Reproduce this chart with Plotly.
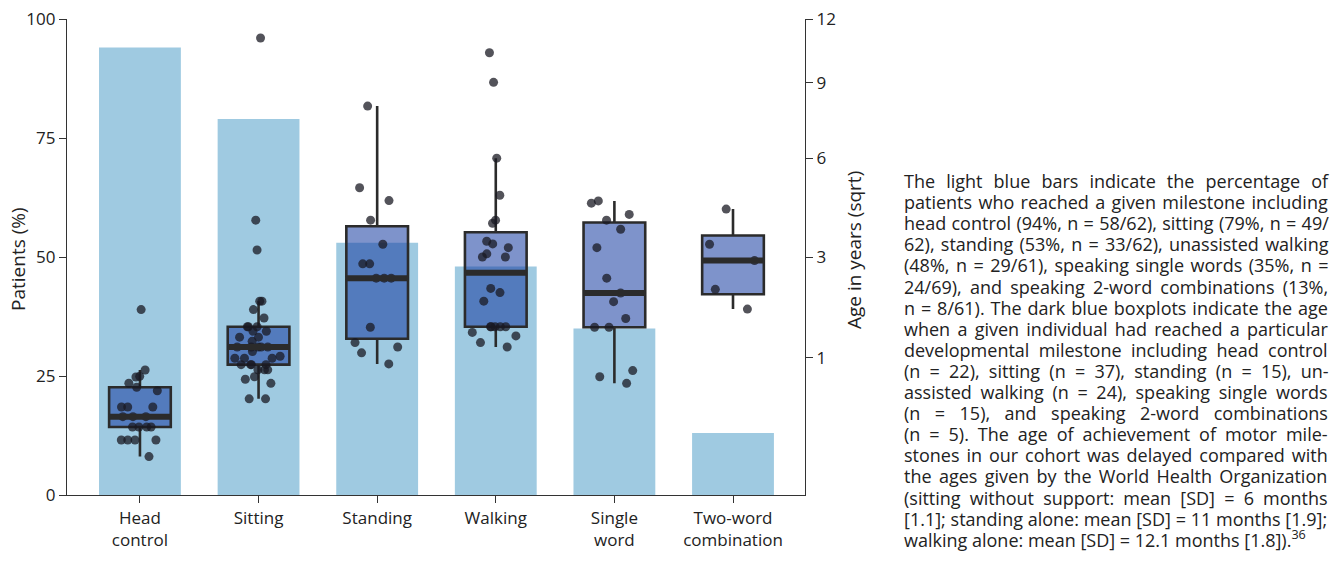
import numpy as np
import plotly.graph_objects as go

# Milestone categories (x positions 0..5)
categories = ["Head<br>control", "Sitting", "Standing", "Walking", "Single<br>word", "Two-word<br>combination"]

# Share of patients reaching each milestone (%)
pct_reached = [94, 79, 53, 48, 35, 13]

# Age (years) at which individual patients reached each milestone
age_head_control = [1.82, 0.828, 0.746, 0.738, 0.661, 0.615, 0.576, 0.41, 0.41, 0.41,
                    0.325, 0.325, 0.325, 0.245, 0.245, 0.245, 0.245,
                    0.16, 0.16, 0.16, 0.16, 0.078]
age_sitting = [11.06, 4.0, 3.18, 1.99, 1.99, 1.82, 1.66, 1.50, 1.50, 1.50, 1.42, 1.42,
               1.32, 1.32, 1.25, 1.16, 1.16, 1.16, 1.16, 1.16, 1.09, 1.02,
               0.99, 0.99, 0.99, 0.90, 0.90, 0.90, 0.90, 0.83, 0.83, 0.83,
               0.74, 0.71, 0.66, 0.49, 0.49]
age_standing = [8.01, 5.00, 4.59, 4.00, 3.33, 2.83, 2.83, 2.49, 2.49, 2.49,
                1.49, 1.23, 1.16, 1.07, 0.91]
age_walking = [10.36, 9.02, 6.01, 4.76, 4.00, 3.91, 3.41, 3.34, 3.24, 3.08, 3.00, 3.00,
               2.26, 2.17, 1.99, 1.50, 1.50, 1.50, 1.50, 1.50, 1.40, 1.34, 1.23, 1.16]
age_single_word = [4.58, 4.51, 4.17, 4.00, 3.74, 3.24, 2.49, 2.16, 1.98, 1.65,
                   1.49, 1.49, 0.82, 0.74, 0.66]
age_two_word = [4.33, 3.33, 2.91, 2.24, 1.83]

ages = [age_head_control, age_sitting, age_standing, age_walking, age_single_word, age_two_word]

# Right axis ticks (years, shown on a square-root scale)
age_ticks = [1, 3, 6, 9, 12]

caption_lines = [
    "The light blue bars indicate the percentage of",
    "patients who reached a given milestone including",
    "head control (94%, n = 58/62), sitting (79%, n = 49/",
    "62), standing (53%, n = 33/62), unassisted walking",
    "(48%, n = 29/61), speaking single words (35%, n =",
    "24/69), and speaking 2-word combinations (13%,",
    "n = 8/61). The dark blue boxplots indicate the age",
    "when a given individual had reached a particular",
    "developmental milestone including head control",
    "(n = 22), sitting (n = 37), standing (n = 15), un-",
    "assisted walking (n = 24), speaking single words",
    "(n = 15), and speaking 2-word combinations",
    "(n = 5). The age of achievement of motor mile-",
    "stones in our cohort was delayed compared with",
    "the ages given by the World Health Organization",
    "(sitting without support: mean [SD] = 6 months",
    "[1.1]; standing alone: mean [SD] = 11 months [1.9];",
    "walking alone: mean [SD] = 12.1 months [1.8]).",
]
caption_ref = "36"

FONT = "Open Sans"
INK = "#222222"
BAR_COLOR = "#9fcae1"
BOX_FILL = "rgba(20,58,160,0.55)"
BOX_LINE = "#2b2b2b"
POINT_COLOR = "rgba(25,25,35,0.75)"
BOX_W = 0.52

# page geometry of the plotting area (px)
W, H = 1336, 576
M_L, M_R, M_T, M_B = 67, 531, 19, 81
PLOT_W = W - M_L - M_R
PLOT_H = H - M_T - M_B


def px_to_paper_x(px):
    return (px - M_L) / PLOT_W


def px_to_paper_y(py):
    return (H - M_B - py) / PLOT_H


# Open Sans advance widths (units per em = 2048) used to justify the caption
ADV = {" ": 532, "!": 547, "(": 606, ")": 606, ",": 502, "-": 659, ".": 545, "/": 752,
       ":": 545, ";": 545, "=": 1171, "%": 1686, "[": 674, "]": 674,
       "A": 1296, "B": 1327, "C": 1292, "D": 1493, "E": 1139, "H": 1511, "O": 1595,
       "S": 1114, "T": 1118, "W": 1921,
       "a": 1139, "b": 1255, "c": 975, "d": 1255, "e": 1149, "f": 694, "g": 1122,
       "h": 1257, "i": 518, "j": 518, "k": 1075, "l": 518, "m": 1905, "n": 1257,
       "o": 1237, "p": 1255, "q": 1255, "r": 836, "s": 977, "t": 723, "u": 1257,
       "v": 1026, "w": 1593, "x": 1073, "y": 1028, "z": 977}
for d in "0123456789":
    ADV[d] = 1171


def text_px(s, size):
    return sum(ADV.get(ch, 1150) for ch in s) * size / 2048.0


x_pos = list(range(len(categories)))

fig = go.Figure()

fig.add_trace(go.Bar(
    x=x_pos, y=pct_reached, width=0.69,
    marker=dict(color=BAR_COLOR, line=dict(width=0)),
    yaxis="y", showlegend=False, hoverinfo="skip",
))

for i, vals in enumerate(ages):
    s = np.sqrt(np.array(vals, dtype=float))
    fig.add_trace(go.Box(
        x=[i] * len(s), y=s, yaxis="y2",
        width=BOX_W, whiskerwidth=0,
        fillcolor=BOX_FILL,
        line=dict(color=BOX_LINE, width=2.6),
        boxpoints="all", jitter=0.9, pointpos=0,
        marker=dict(color=POINT_COLOR, size=9, line=dict(width=0)),
        showlegend=False,
    ))

# thicker median bars drawn over each box
for i, vals in enumerate(ages):
    med = float(np.median(np.sqrt(np.array(vals, dtype=float))))
    fig.add_trace(go.Scatter(
        x=[i - BOX_W / 2, i + BOX_W / 2], y=[med, med], yaxis="y2",
        mode="lines", line=dict(color=BOX_LINE, width=6),
        showlegend=False, hoverinfo="skip",
    ))

# justified caption: one text block, per-line word spacing stretches each line
CAP_SIZE = 18
CAP_LEFT, CAP_RIGHT = 903, 1327
CAP_STEP = 21.1
BLOCK_FONT = CAP_STEP / 1.3        # sets the line pitch of the block
html_lines = []
for k, line in enumerate(caption_lines):
    n_sp = line.count(" ")
    if k < len(caption_lines) - 1 and n_sp:
        extra = (CAP_RIGHT - CAP_LEFT - text_px(line, CAP_SIZE)) / n_sp
    else:
        extra = 0.0
    body = line if k < len(caption_lines) - 1 else line + "<sup>" + caption_ref + "</sup>"
    html_lines.append(
        f'<span style="font-size:{CAP_SIZE}px;word-spacing:{extra:.2f}px">{body}</span>'
    )

annotations = [dict(
    text="<br>".join(html_lines),
    xref="paper", yref="paper",
    x=px_to_paper_x(CAP_LEFT), y=px_to_paper_y(360.5),
    xanchor="left", yanchor="middle", align="left",
    showarrow=False, borderpad=0,
    font=dict(family=FONT, size=BLOCK_FONT, color=INK),
)]

# axis titles
annotations.append(dict(
    text="Patients (%)", textangle=-90, xref="paper", yref="paper",
    x=px_to_paper_x(18), y=px_to_paper_y(259), xanchor="center", yanchor="middle",
    showarrow=False, font=dict(family=FONT, size=19, color=INK),
))
annotations.append(dict(
    text="Age in years (sqrt)", textangle=-90, xref="paper", yref="paper",
    x=px_to_paper_x(854), y=px_to_paper_y(250), xanchor="center", yanchor="middle",
    showarrow=False, font=dict(family=FONT, size=19, color=INK),
))

axis_common = dict(
    showline=True, linecolor="#333333", linewidth=1.2,
    ticks="outside", ticklen=7, tickwidth=1.2, tickcolor="#333333",
    showgrid=False, zeroline=False, automargin=False,
    tickfont=dict(family=FONT, size=17, color=INK),
)

fig.update_layout(
    width=W, height=H,
    margin=dict(l=M_L, r=M_R, t=M_T, b=M_B),
    paper_bgcolor="white", plot_bgcolor="white",
    font=dict(family=FONT, color=INK),
    boxmode="overlay",
    xaxis=dict(
        range=[-0.615, 5.607],
        tickvals=x_pos, ticktext=categories,
        **axis_common,
    ),
    yaxis=dict(
        range=[0, 100], tickvals=[0, 25, 50, 75, 100],
        **axis_common,
    ),
    yaxis2=dict(
        overlaying="y", side="right", anchor="x",
        range=[0, float(np.sqrt(12))],
        tickvals=[float(np.sqrt(v)) for v in age_ticks],
        ticktext=[str(v) for v in age_ticks],
        **axis_common,
    ),
    annotations=annotations,
)

fig.write_html("out.html")
